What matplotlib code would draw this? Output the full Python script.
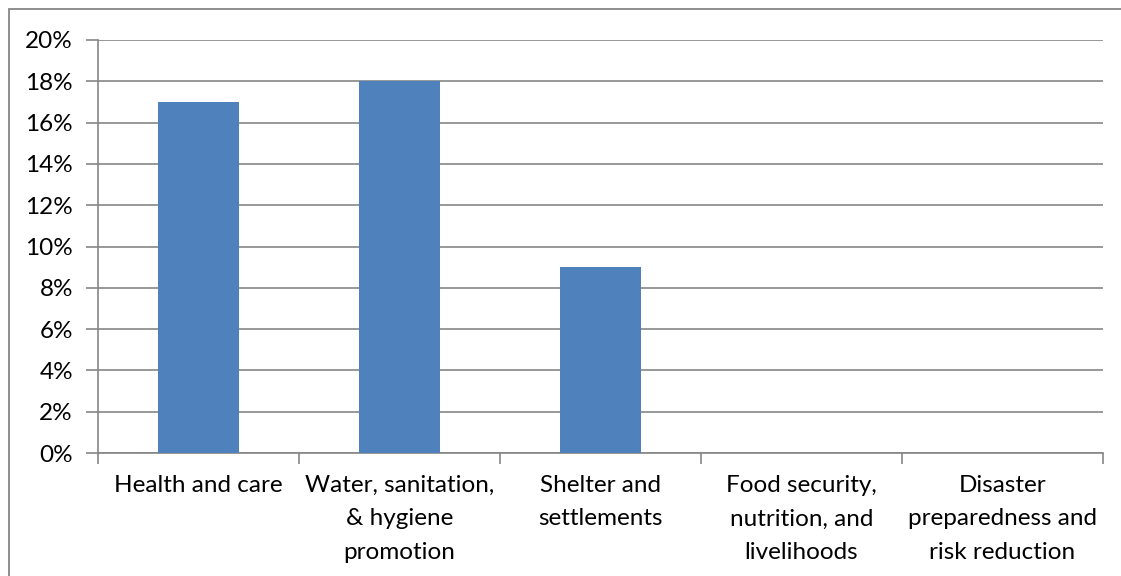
import matplotlib
matplotlib.use("Agg")
import matplotlib.pyplot as plt
from matplotlib.patches import Rectangle
from matplotlib.ticker import FixedLocator, FuncFormatter

categories = ["Health and care", "Water, sanitation,\n& hygiene\npromotion",
              "Shelter and\nsettlements", "Food security,\nnutrition, and\nlivelihoods",
              "Disaster\npreparedness and\nrisk reduction"]
values = [0.17, 0.18, 0.09, 0.0, 0.0]
yticks = [0.0, 0.02, 0.04, 0.06, 0.08, 0.10, 0.12, 0.14, 0.16, 0.18, 0.20]

W, H = 1121, 576
fig = plt.figure(figsize=(W / 100, H / 100), dpi=100)
plt.rcParams['font.family'] = ['Lato', 'DejaVu Sans']
fs = 17.5

ax = fig.add_axes([98 / W, 1 - 453 / H, (1103 - 98) / W, (453 - 40) / H])
x = list(range(len(categories)))
ax.bar(x, values, width=0.4, color="#4F81BD", zorder=3)
ax.set_xlim(-0.5, len(categories) - 0.5)
ax.set_ylim(0, 0.20)
ax.set_yticks(yticks)
ax.yaxis.set_major_formatter(FuncFormatter(lambda v, p: f"{round(v*100)}%"))
ax.grid(axis="y", color="#868686", linewidth=1.2, zorder=0)
for s in ["top", "right"]:
    ax.spines[s].set_visible(False)
for s in ["left", "bottom"]:
    ax.spines[s].set_color("#868686")
    ax.spines[s].set_linewidth(1.2)
ax.tick_params(axis="y", length=9, width=1.2, color="#868686", labelsize=fs, pad=9)
ax.set_xticks(x)
ax.set_xticklabels(categories, fontsize=fs, linespacing=1.72)
ax.tick_params(axis="x", which="major", length=0, pad=16)
ax.xaxis.set_minor_locator(FixedLocator([i - 0.5 for i in range(len(categories) + 1)]))
ax.tick_params(axis="x", which="minor", length=8, width=1.2, color="#868686")

fig.patches.append(Rectangle((9 / W, -0.1), 1.2, 1 - 9 / H + 0.1, transform=fig.transFigure,
                             fill=False, edgecolor="#868686", linewidth=1.3))
fig.savefig("out.png", dpi=100)
